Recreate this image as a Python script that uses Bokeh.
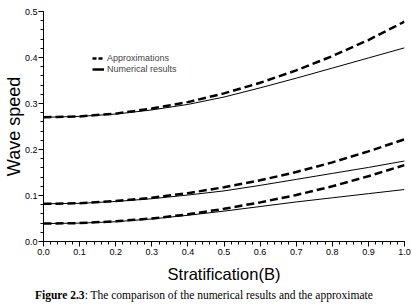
from bokeh.plotting import figure
from bokeh.layouts import column
from bokeh.models import Range1d, FixedTicker, PrintfTickFormatter, Legend, LegendItem, ColumnDataSource, Div
from bokeh.embed import file_html
from bokeh.resources import INLINE

# Data
B = [0.0, 0.1, 0.2, 0.3, 0.4, 0.5, 0.6, 0.7, 0.8, 0.9, 1.0]
approx_1 = [0.270, 0.272, 0.278, 0.289, 0.303, 0.322, 0.345, 0.372, 0.403, 0.438, 0.478]
numer_1 = [0.270, 0.272, 0.277, 0.286, 0.298, 0.314, 0.334, 0.355, 0.377, 0.399, 0.421]
approx_2 = [0.082, 0.083, 0.088, 0.095, 0.105, 0.118, 0.133, 0.151, 0.172, 0.196, 0.222]
numer_2 = [0.082, 0.083, 0.087, 0.093, 0.101, 0.110, 0.122, 0.135, 0.148, 0.161, 0.175]
approx_3 = [0.039, 0.040, 0.044, 0.050, 0.059, 0.071, 0.085, 0.101, 0.120, 0.142, 0.166]
numer_3 = [0.039, 0.040, 0.043, 0.049, 0.057, 0.066, 0.076, 0.086, 0.095, 0.104, 0.113]

x_ticks = [0.0, 0.1, 0.2, 0.3, 0.4, 0.5, 0.6, 0.7, 0.8, 0.9, 1.0]
y_ticks = [0.0, 0.1, 0.2, 0.3, 0.4, 0.5]
x_minor = [i / 50 for i in range(51)]
y_minor = [i / 50 for i in range(26)]

legend_labels = ["Approximations", "Numerical results"]
x_label = "Stratification(B)"
y_label = "Wave speed"
caption_bold = "Figure 2.3"
caption_rest = ": The comparison of the numerical results and the approximate"

p = figure(width=412, height=293, output_backend="svg", toolbar_location=None,
           x_range=Range1d(0, 1.0), y_range=Range1d(0, 0.5),
           min_border_left=43, min_border_right=8, min_border_top=11, min_border_bottom=52)
p.outline_line_color = None
p.xgrid.visible = False
p.ygrid.visible = False
p.background_fill_color = "white"
p.border_fill_color = "white"

for ax, ticks, minor in ((p.xaxis[0], x_ticks, x_minor), (p.yaxis[0], y_ticks, y_minor)):
    ax.ticker = FixedTicker(ticks=ticks, minor_ticks=minor)
    ax.formatter = PrintfTickFormatter(format="%.1f")
    ax.major_tick_in = 0
    ax.minor_tick_in = 0
    ax.major_tick_out = 5
    ax.minor_tick_out = 3
    ax.axis_line_color = "black"
    ax.major_tick_line_color = "black"
    ax.minor_tick_line_color = "black"
    ax.major_label_text_font = "Liberation Sans"
    ax.major_label_text_font_size = "9px"
    ax.major_label_text_color = "black"
    ax.axis_label_text_font = "Liberation Sans"
    ax.axis_label_text_font_style = "normal"
    ax.axis_label_text_color = "black"

p.xaxis.major_label_standoff = 2
p.yaxis.major_label_standoff = 1
p.xaxis.axis_label = x_label
p.xaxis.axis_label_text_font_size = "16.5px"
p.xaxis.axis_label_standoff = 7
p.yaxis.axis_label = y_label
p.yaxis.axis_label_text_font_size = "18px"
p.yaxis.axis_label_standoff = -2

for a, n in ((approx_1, numer_1), (approx_2, numer_2), (approx_3, numer_3)):
    p.line(B, n, line_color="black", line_width=1)
    p.line(B, a, line_color="black", line_width=2.5, line_dash="8 4")

nan = float("nan")
dummy = ColumnDataSource(data=dict(x=[nan], y=[nan]))
r_dash = p.line("x", "y", source=dummy, line_color="black", line_width=2.5, line_dash="4 2")
r_solid = p.line("x", "y", source=dummy, line_color="black", line_width=2.5)

legend = Legend(items=[LegendItem(label=legend_labels[0], renderers=[r_dash]),
                       LegendItem(label=legend_labels[1], renderers=[r_solid])],
                location=(49, 167), border_line_color=None, background_fill_alpha=0,
                label_text_font="Liberation Sans", label_text_font_size="9px",
                label_height=10, glyph_height=10, glyph_width=12, spacing=1,
                padding=0, margin=0, label_standoff=3)
p.add_layout(legend, "center")

caption = Div(text="<b>" + caption_bold + "</b>" + caption_rest,
              width=412, height=15, margin=(0, 0, 0, 0),
              styles={"font-family": "'Liberation Serif', serif", "font-size": "11.5px",
                      "line-height": "12px", "color": "black", "padding-left": "35px",
                      "position": "relative", "top": "-4px",
                      "white-space": "nowrap"})

layout = column(p, caption, spacing=0)
open("out.html", "w").write(file_html(layout, INLINE))
